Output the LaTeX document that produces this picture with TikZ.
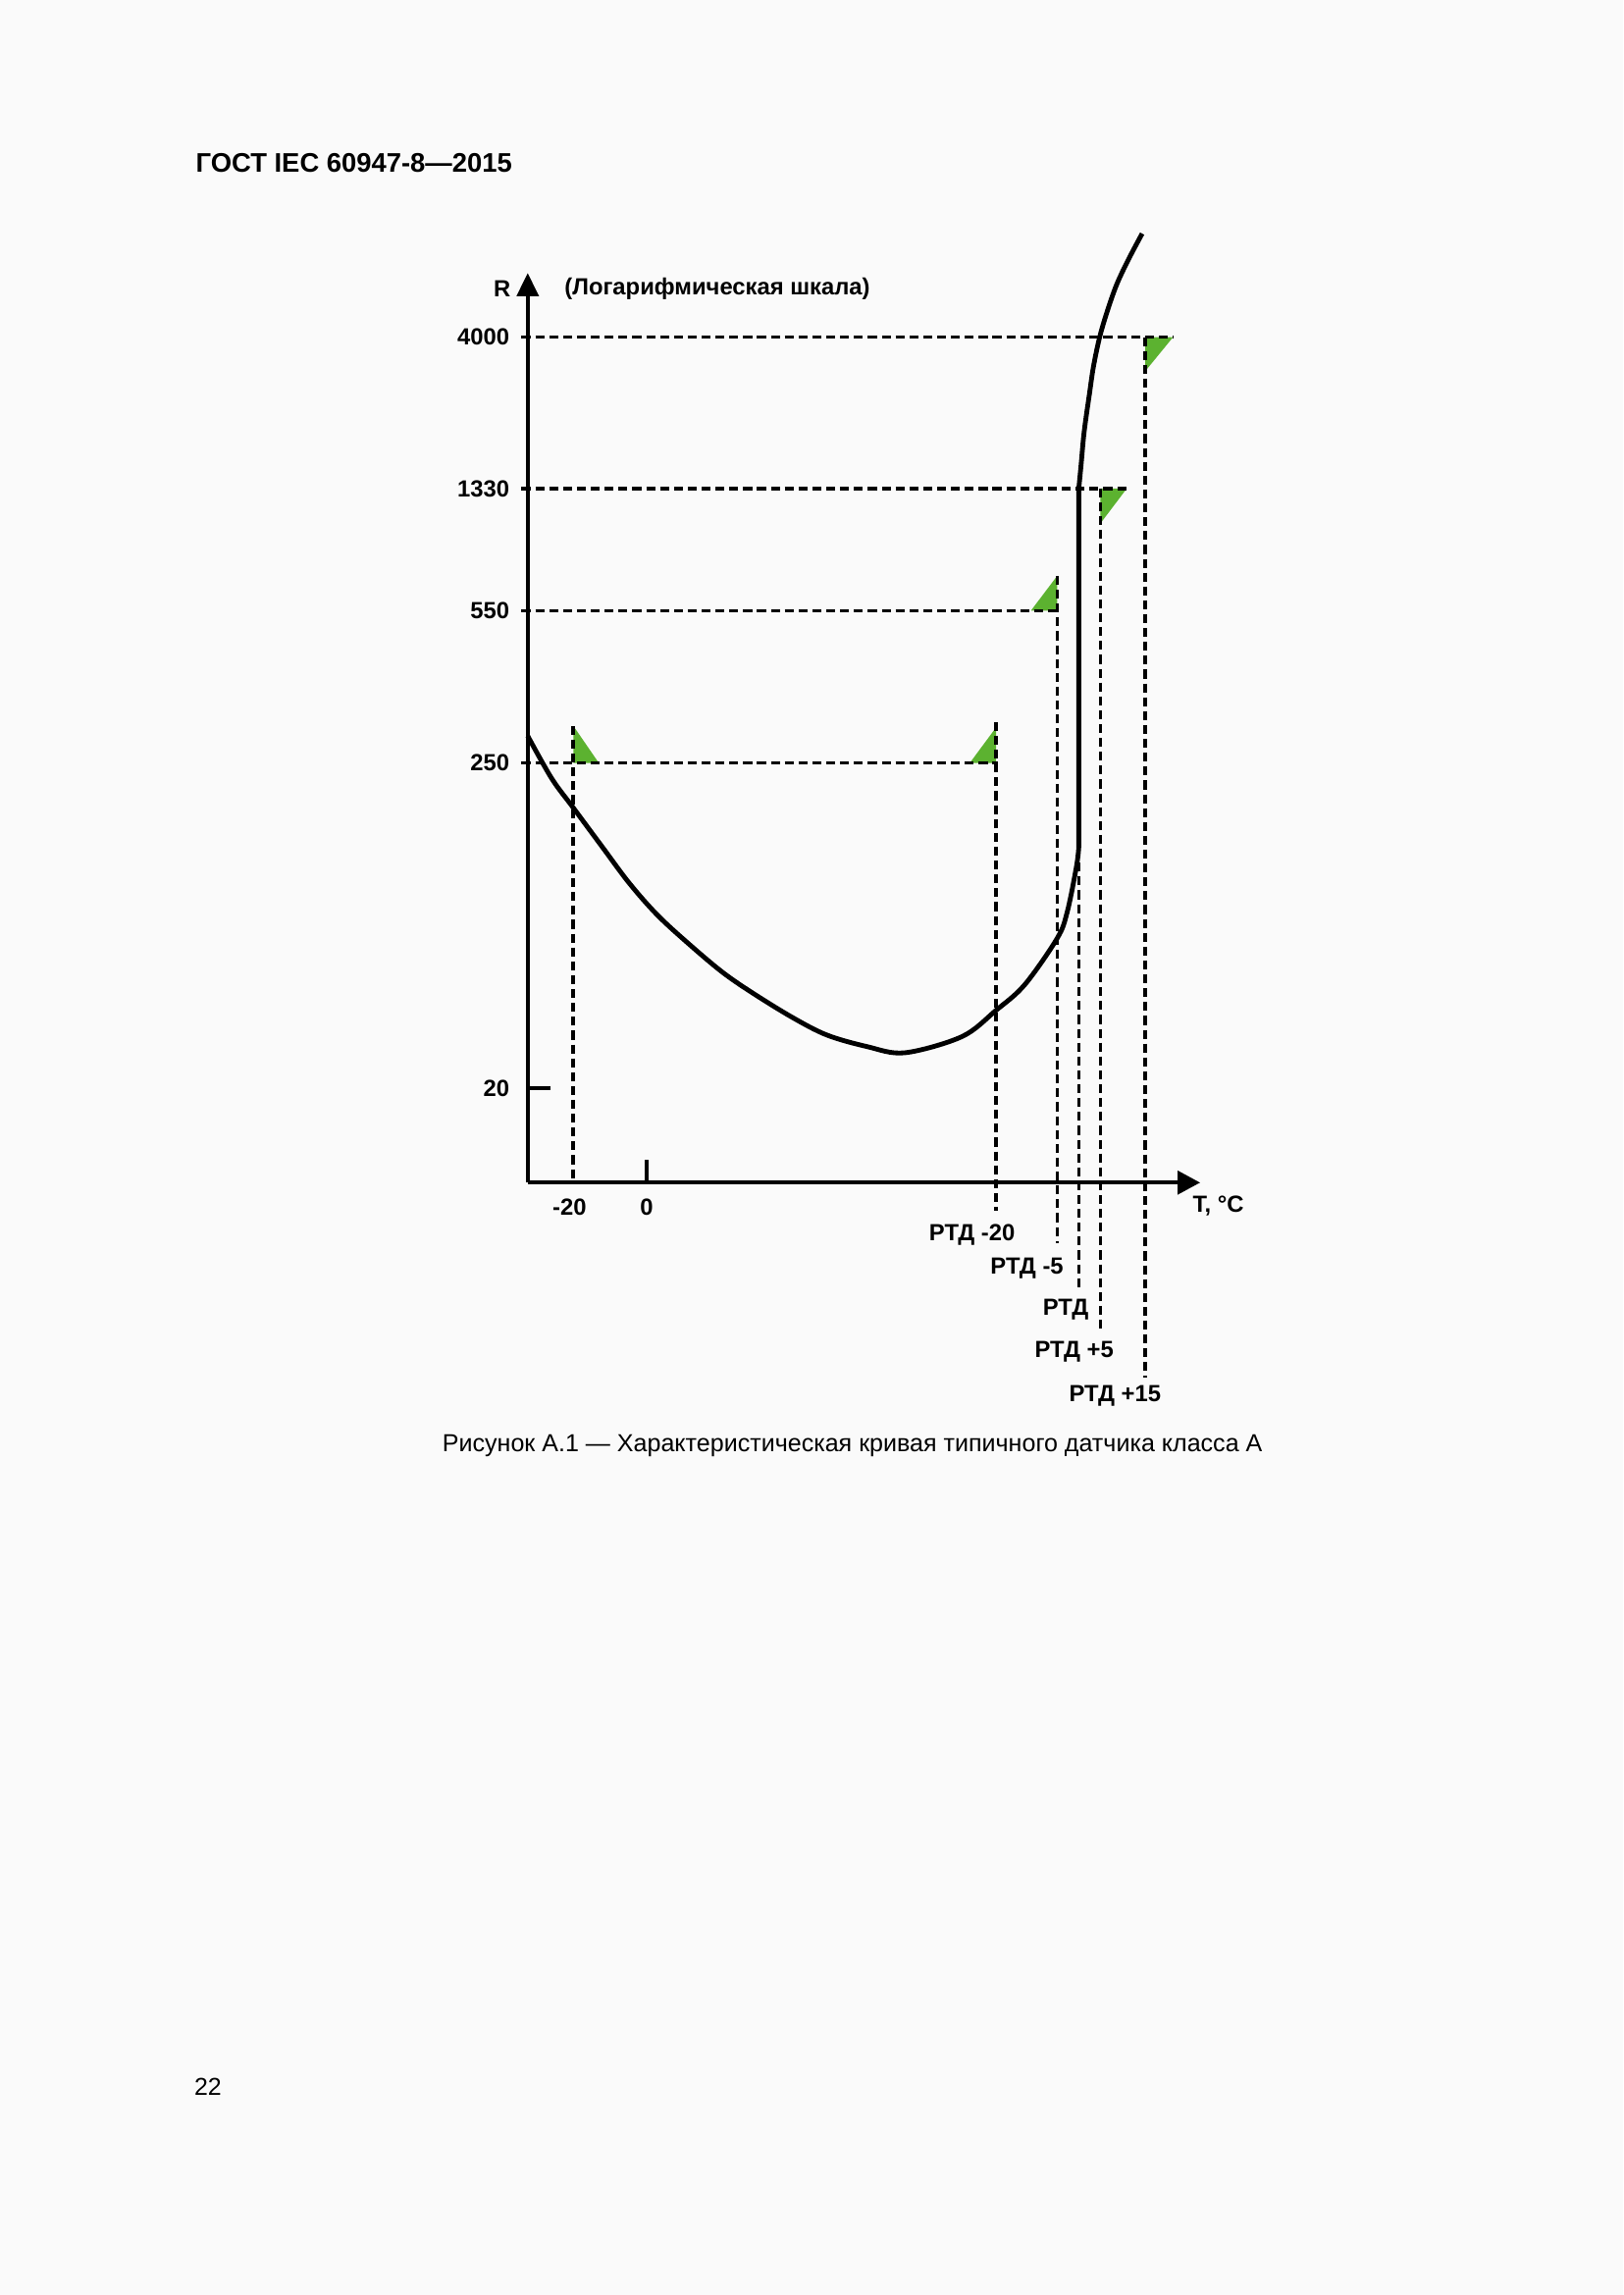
\documentclass[tikz,border=0pt]{standalone}
\usepackage{fontspec}
\setmainfont{Liberation Sans}
\usepackage{tikz}
\usetikzlibrary{arrows.meta}
\definecolor{flaggreen}{RGB}{92,178,48}
\definecolor{pagegray}{RGB}{250,250,250}

\begin{document}
\begin{tikzpicture}[
    axline/.style={line width=1.3pt},
    lvl/.style={line width=1.3pt, dash pattern=on 3.3pt off 1.8pt},
    flag/.style={fill=flaggreen},
    lbl/.style={font=\bfseries\fontsize{8.6}{10}\selectfont, inner sep=0pt, text depth=0pt},
    ]
    % Page
    \fill[pagegray] (-6.828,-14.394) rectangle (14.172,15.303);
    \useasboundingbox (-6.828,-14.394) rectangle (14.172,15.303);
    \node[anchor=west, inner sep=0pt, text depth=0pt, font=\bfseries\fontsize{9.9}{12}\selectfont] (head) at (-4.30, 13.19) {ГОСТ IEC 60947-8—2015};
    \node[anchor=west, inner sep=0pt, text depth=0pt, font=\fontsize{9}{11}\selectfont] (pageno) at (-4.32, -11.70) {22};
    %
    % Axes
    \coordinate (O) at (0,0);
    \coordinate (Rtip) at (0, 11.77);
    \coordinate (Ttip) at (8.70, 0);
    \draw[ axline, -{Triangle[length=0.30cm, width=0.28cm]}] (O) -- (Rtip);
    \draw[ axline, -{Triangle[length=0.29cm, width=0.30cm]}] (O) -- (Ttip);
    \node[lbl] (R) at (-0.33, 11.56) {R};
    \node[lbl, anchor=west] (scale) at (0.47, 11.60) {(Логарифмическая шкала)};
    \node[lbl, anchor=west] (T) at (8.60, -0.28) {T, °C};
    % Ticks
    \draw[ axline] (1.54, 0) -- (1.54, 0.30);
    \draw[ axline] (0, 1.22) -- (0.30, 1.22);
    \node[lbl] (tm20) at (0.54, -0.31) {-20};
    \node[lbl] (t0) at (1.54, -0.31) {0};
    \node[lbl, anchor=east] (r20) at (-0.23, 1.22) {20};
    \node[lbl, anchor=east] (r250) at (-0.23, 5.43) {250};
    \node[lbl, anchor=east] (r550) at (-0.23, 7.40) {550};
    \node[lbl, anchor=east] (r1330) at (-0.23, 8.98) {1330};
    \node[lbl, anchor=east] (r4000) at (-0.23, 10.94) {4000};
    %
    % Tolerance flags
    \fill[flag] (0.59, 5.43) -- (0.92, 5.43) -- (0.59, 5.91) -- cycle;
    \fill[flag] (6.06, 5.43) -- (5.72, 5.43) -- (6.06, 5.89) -- cycle;
    \fill[flag] (6.85, 7.40) -- (6.51, 7.40) -- (6.85, 7.85) -- cycle;
    \fill[flag] (7.41, 8.98) -- (7.75, 8.98) -- (7.41, 8.53) -- cycle;
    \fill[flag] (7.99, 10.94) -- (8.35, 10.94) -- (7.99, 10.50) -- cycle;
    %
    % Resistance levels
    \draw[ lvl] (-0.08, 5.43) -- (6.08, 5.43);
    \draw[ lvl] (-0.08, 7.40) -- (6.88, 7.40);
    \draw[ lvl] (-0.08, 8.98) -- (7.75, 8.98);
    \draw[ lvl] (-0.08, 10.94) -- (8.36, 10.94);
    %
    % Response temperatures
    \draw[ lvl] (0.59, 5.91) -- (0.59, 0);
    \draw[ lvl] (6.06, 5.96) -- (6.06, -0.36);
    \draw[ lvl] (6.85, 7.85) -- (6.85, -0.78);
    \draw[ lvl] (7.13, 8.98) -- (7.13, -1.39);
    \draw[ lvl] (7.41, 8.98) -- (7.41, -1.92);
    \draw[ lvl] (7.99, 10.94) -- (7.99, -2.52);
    \node[lbl] (rtdm20) at (5.75, -0.65) {РТД -20};
    \node[lbl] (rtdm5) at (6.46, -1.08) {РТД -5};
    \node[lbl] (rtd) at (6.96, -1.61) {РТД};
    \node[lbl] (rtdp5) at (7.07, -2.16) {РТД +5};
    \node[lbl] (rtdp15) at (7.60, -2.73) {РТД +15};
    %
    % Characteristic curve
    \draw[ line width=1.75pt, line join=round] plot[smooth, tension=0.55] coordinates {(0.00,5.78) (0.31,5.23) (0.59,4.85) (0.96,4.35) (1.31,3.88) (1.67,3.47) (2.06,3.11) (2.51,2.73) (2.90,2.46) (3.42,2.14) (3.87,1.91) (4.39,1.76) (4.88,1.68) (5.62,1.89) (6.06,2.23) (6.43,2.56) (6.85,3.16) (6.98,3.50) (7.10,4.09) (7.13,4.34)}
        -- plot[smooth, tension=0.55] coordinates {(7.13,8.98) (7.16,9.29) (7.20,9.72) (7.27,10.22) (7.32,10.56) (7.40,10.94) (7.50,11.28) (7.62,11.62) (7.77,11.94) (7.95,12.28)};
    %
    % Caption
    \node[anchor=west, inner sep=0pt, text depth=0pt, font=\fontsize{9.05}{11}\selectfont] (caption) at (-1.11, -3.37) {Рисунок А.1 — Характеристическая кривая типичного датчика класса А};
\end{tikzpicture}
\end{document}
